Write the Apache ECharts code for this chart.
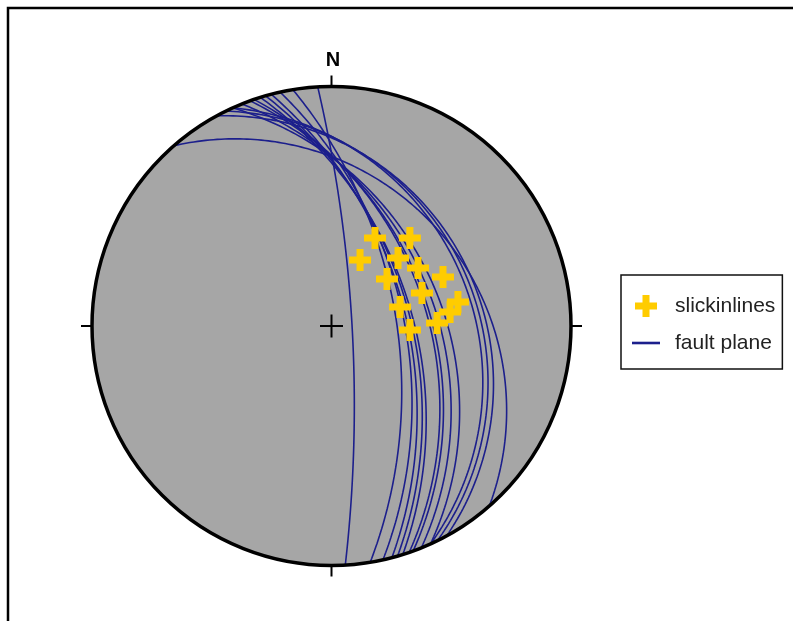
<!DOCTYPE html>
<html>
<head>
<meta charset="utf-8">
<script src="https://cdn.jsdelivr.net/npm/echarts@6/dist/echarts.min.js"></script>
<style>
html,body{margin:0;padding:0;background:#fff;}
#chart{width:793px;height:621px;}
</style>
</head>
<body>
<div id="chart"></div>
<script>
// Fault planes (strike, dip; right-hand rule, dip direction = strike + 90)
const faultStrikes = [356.7, 350.7, 347.6, 345.4, 344.0, 342.7, 341.1, 340.1, 338.0, 335.6, 335.6, 333.8, 331.3, 318.8];
const faultDips    = [80.2,  59.7,  56.5,  55.5,  53.9,  52.9,  46.9,  45.8,  43.4,  40.8,  29.7,  28.2,  26.9,  28.2];
// Slickenlines (trend, plunge)
const slickTrends  = [26.3, 41.7, 23.4, 44.4, 56.2, 49.7, 66.3, 70.0, 79.3, 83.3, 74.5, 92.9, 88.4];
const slickPlunges = [45.4, 37.6, 56.6, 46.7, 43.0, 56.2, 36.1, 46.2, 33.5, 37.0, 56.9, 53.7, 42.4];
const northLabel = 'N';
const legendNames = ['slickinlines', 'fault plane'];

const D = Math.PI / 180;
// Lower-hemisphere equal-angle (Wulff) projection, unit primitive radius
function project(trend, plunge) {
  const r = Math.tan((90 - plunge) / 2 * D);
  return [r * Math.sin(trend * D), r * Math.cos(trend * D)];
}
function greatCircle(strike, dip) {
  const pts = [];
  const s = strike * D, cd = Math.cos(dip * D), sd = Math.sin(dip * D);
  for (let a = 0; a <= 180; a += 1) {
    const ca = Math.cos(a * D), sa = Math.sin(a * D);
    const e = ca * Math.sin(s) + sa * cd * Math.cos(s);
    const n = ca * Math.cos(s) - sa * cd * Math.sin(s);
    const dn = sa * sd;
    const pl = Math.asin(Math.min(1, Math.max(-1, dn))) / D;
    const tr = Math.atan2(e, n) / D;
    pts.push(project(tr, pl));
  }
  return pts;
}

const plusPath = 'path://M7.5,0H14.5V7.5H22V14.5H14.5V22H7.5V14.5H0V7.5H7.5Z';
const linePath = 'path://M0,0H28V2.6H0Z';
const gold = '#FFCC00';
const navy = '#1c1f8c';

const series = [];
series.push({
  type: 'custom', name: 'net-bg', silent: true, z: 1,
  data: [[0, 0]],
  renderItem: function (params, api) {
    const c = api.coord([0, 0]);
    const r = api.coord([1, 0])[0] - c[0];
    return { type: 'circle', shape: { cx: c[0], cy: c[1], r: r }, style: { fill: '#a6a6a6' } };
  }
});
faultStrikes.forEach(function (s, i) {
  series.push({
    type: 'line', name: legendNames[1], z: 3,
    data: greatCircle(s, faultDips[i]),
    showSymbol: false, symbol: 'none', smooth: false, silent: true,
    color: navy,
    lineStyle: { color: navy, width: 1.6 }
  });
});
series.push({
  type: 'scatter', name: legendNames[0], z: 5,
  data: slickTrends.map(function (t, i) { return project(t, slickPlunges[i]); }),
  symbol: plusPath, symbolSize: 22,
  itemStyle: { color: gold, opacity: 1 }
});
series.push({
  type: 'custom', name: 'net-fg', silent: true, z: 10,
  data: [[0, 0]],
  renderItem: function (params, api) {
    const c = api.coord([0, 0]);
    const r = api.coord([1, 0])[0] - c[0];
    const t = 11, k = 11.5;
    const ls = { stroke: '#000', lineWidth: 2 };
    return {
      type: 'group',
      children: [
        { type: 'circle', shape: { cx: c[0], cy: c[1], r: r }, style: { fill: 'none', stroke: '#000', lineWidth: 3.5 } },
        { type: 'line', shape: { x1: c[0], y1: c[1] - r, x2: c[0], y2: c[1] - r - t }, style: ls },
        { type: 'line', shape: { x1: c[0], y1: c[1] + r, x2: c[0], y2: c[1] + r + t }, style: ls },
        { type: 'line', shape: { x1: c[0] - r, y1: c[1], x2: c[0] - r - t, y2: c[1] }, style: ls },
        { type: 'line', shape: { x1: c[0] + r, y1: c[1], x2: c[0] + r + t, y2: c[1] }, style: ls },
        { type: 'line', shape: { x1: c[0] - k, y1: c[1], x2: c[0] + k, y2: c[1] }, style: ls },
        { type: 'line', shape: { x1: c[0], y1: c[1] - k, x2: c[0], y2: c[1] + k }, style: ls },
        { type: 'text', x: c[0] + 1.5, y: c[1] - r - t - 15, style: { text: northLabel, fill: '#000', font: 'bold 20px "Liberation Sans", Arial, sans-serif', align: 'center', verticalAlign: 'middle' } }
      ]
    };
  }
});

const chart = echarts.init(document.getElementById('chart'), null, { renderer: 'canvas' });
chart.setOption({
  animation: false,
  backgroundColor: '#fff',
  grid: { left: 92, top: 86.5, width: 479, height: 479, show: false },
  xAxis: { type: 'value', min: -1, max: 1, show: false },
  yAxis: { type: 'value', min: -1, max: 1, show: false },
  legend: {
    orient: 'vertical', left: 621, top: 275,
    padding: [20, 7, 15, 11], itemGap: 15,
    itemWidth: 28, itemHeight: 22,
    borderColor: '#111', borderWidth: 1.5, backgroundColor: '#fff',
    selectedMode: false,
    textStyle: { fontSize: 21, color: '#222', fontFamily: '"Liberation Sans", Arial, sans-serif', padding: [0, 0, 0, 10], lineHeight: 22 },
    data: [
      { name: legendNames[0], icon: plusPath, itemStyle: { color: gold } },
      { name: legendNames[1], icon: linePath, itemStyle: { color: navy } }
    ]
  },
  graphic: [
    { type: 'rect', shape: { x: 8, y: 8, width: 900, height: 800 }, style: { fill: 'none', stroke: '#000', lineWidth: 2.5 }, silent: true }
  ],
  series: series
});
</script>
</body>
</html>
